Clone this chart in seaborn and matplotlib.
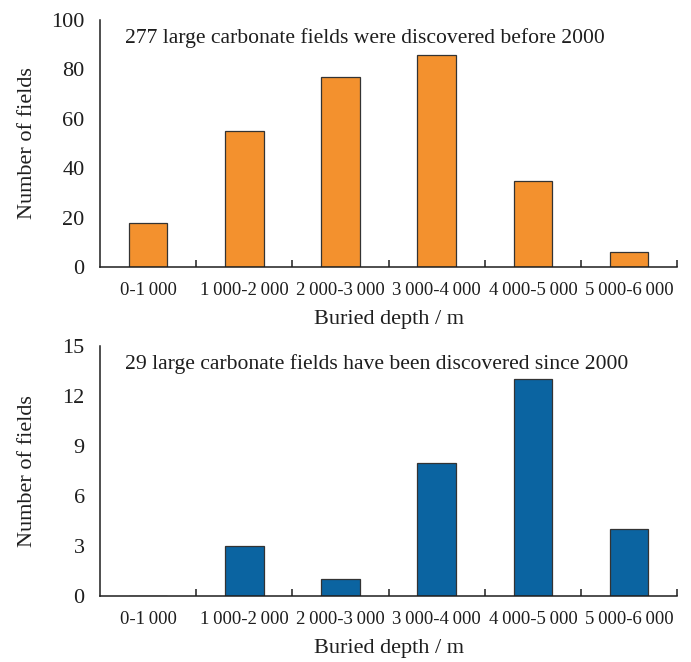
import matplotlib
matplotlib.use("Agg")
import matplotlib.pyplot as plt
import seaborn as sns
import pandas as pd

# Depth classes (thin spaces as digit-group separators) and field counts
depth_classes = ["0-1\u2009000", "1\u2009000-2\u2009000", "2\u2009000-3\u2009000",
                 "3\u2009000-4\u2009000", "4\u2009000-5\u2009000", "5\u2009000-6\u2009000"]
fields_before_2000 = [18, 55, 77, 86, 35, 6]
fields_since_2000 = [0, 3, 1, 8, 13, 4]

yticks_top = [0, 20, 40, 60, 80, 100]
yticks_bottom = [0, 3, 6, 9, 12, 15]

note_top = "277 large carbonate fields were discovered before 2000"
note_bottom = "29 large carbonate fields have been discovered since 2000"

orange = "#F3912E"
blue = "#0B64A1"
edge = "#333333"
ink = "#1e1e1e"

sns.set_style("ticks")
plt.rcParams["font.family"] = ["Liberation Serif", "DejaVu Serif"]
plt.rcParams["axes.edgecolor"] = ink
plt.rcParams["axes.linewidth"] = 1.1

fig = plt.figure(figsize=(6.91, 6.62), dpi=100)
ax_top = fig.add_axes([0.1447, 0.5967, 0.8353, 0.3731])
ax_bot = fig.add_axes([0.1447, 0.0997, 0.8353, 0.3776])

panels = [
    (ax_top, fields_before_2000, orange, yticks_top, note_top),
    (ax_bot, fields_since_2000, blue, yticks_bottom, note_bottom),
]

for ax, counts, colour, yticks, note in panels:
    df = pd.DataFrame({"depth": depth_classes, "count": counts})
    sns.barplot(data=df, x="depth", y="count", color=colour, saturation=1,
                width=0.4, edgecolor=edge, linewidth=0.9, ax=ax)
    ax.set_xlim(-0.5, len(depth_classes) - 0.5)
    ax.set_ylim(yticks[0], yticks[-1])
    ax.set_yticks(yticks)
    ax.set_yticklabels([str(t) for t in yticks])
    ax.set_yticks([yticks[-1]], minor=True)
    ax.set_xticks([i + 0.5 for i in range(len(depth_classes))], minor=True)

    sns.despine(ax=ax)
    ax.tick_params(axis="x", which="major", length=0, pad=11, labelsize=13.5, colors=ink)
    ax.tick_params(axis="x", which="minor", direction="in", length=5, width=1.1, color=ink)
    ax.tick_params(axis="y", which="major", length=0, pad=11, labelsize=16, colors=ink)
    ax.tick_params(axis="y", which="minor", direction="in", length=4.5, width=1.1, color=ink)

    ax.set_xlabel("Buried depth / m", fontsize=16, labelpad=8, color=ink)
    ax.set_ylabel("Number of fields", fontsize=16, color=ink)
    ax.yaxis.set_label_coords(-0.109, 0.5)
    ax.text(0.043, 0.928, note, transform=ax.transAxes, fontsize=15.6,
            ha="left", va="center", color=ink)

fig.savefig("out.png", dpi=100)
